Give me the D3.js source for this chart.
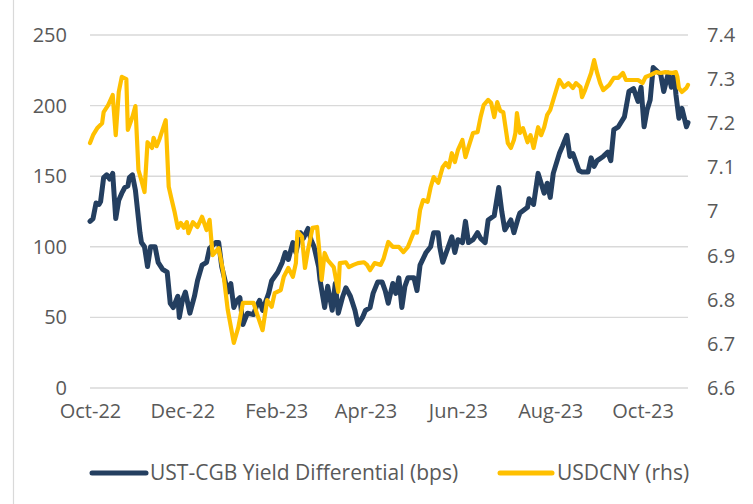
<!DOCTYPE html>
<html>
<head>
<meta charset="utf-8">
<script src="https://cdn.jsdelivr.net/npm/d3@7"></script>
<style>
  html, body { margin: 0; padding: 0; background: #fff; }
  svg { display: block; }
  text { font-family: "Open Sans", "Noto Sans", sans-serif; fill: #595959; }
</style>
</head>
<body>
<svg id="chart" width="753" height="504"></svg>
<script>
// ---------------- DATA ----------------
const seriesNames = ["UST-CGB Yield Differential (bps)", "USDCNY (rhs)"];

const spreadDates = [
"2022-10-01","2022-10-03","2022-10-05","2022-10-07","2022-10-08","2022-10-10","2022-10-12","2022-10-14","2022-10-16","2022-10-18",
"2022-10-20","2022-10-22","2022-10-24","2022-10-26","2022-10-27","2022-10-29","2022-10-31","2022-11-02","2022-11-03","2022-11-04",
"2022-11-06","2022-11-08","2022-11-10","2022-11-13","2022-11-15","2022-11-18","2022-11-21","2022-11-23","2022-11-25","2022-11-28",
"2022-11-29","2022-12-01","2022-12-03","2022-12-06","2022-12-09","2022-12-11","2022-12-14","2022-12-17","2022-12-19","2022-12-23",
"2022-12-25","2022-12-27","2022-12-31","2023-01-02","2023-01-04","2023-01-06","2023-01-08","2023-01-10","2023-01-13","2023-01-17",
"2023-01-19","2023-01-21","2023-01-23","2023-01-27","2023-01-29","2023-02-02","2023-02-05","2023-02-07","2023-02-09","2023-02-12",
"2023-02-14","2023-02-17","2023-02-19","2023-02-22","2023-02-24","2023-02-26","2023-03-01","2023-03-02","2023-03-05","2023-03-07",
"2023-03-10","2023-03-12","2023-03-14","2023-03-17","2023-03-19","2023-03-22","2023-03-25","2023-03-27","2023-03-30","2023-04-01",
"2023-04-04","2023-04-06","2023-04-09","2023-04-12","2023-04-14","2023-04-16","2023-04-19","2023-04-21","2023-04-23","2023-04-25",
"2023-04-27","2023-04-29","2023-05-03","2023-05-05","2023-05-07","2023-05-11","2023-05-14","2023-05-16","2023-05-19","2023-05-20",
"2023-05-22","2023-05-25","2023-05-28","2023-05-30","2023-06-01","2023-06-04","2023-06-06","2023-06-08","2023-06-11","2023-06-14",
"2023-06-16","2023-06-19","2023-06-21","2023-06-25","2023-06-28","2023-06-30","2023-07-02","2023-07-06","2023-07-08","2023-07-11",
"2023-07-12","2023-07-17","2023-07-18","2023-07-21","2023-07-24","2023-07-28","2023-07-30","2023-08-01","2023-08-03","2023-08-07",
"2023-08-09","2023-08-12","2023-08-14","2023-08-16","2023-08-20","2023-08-22","2023-08-26","2023-08-28","2023-08-30","2023-09-01",
"2023-09-05","2023-09-08","2023-09-10","2023-09-12","2023-09-15","2023-09-19","2023-09-22","2023-09-25","2023-09-28","2023-09-30",
"2023-10-02","2023-10-04","2023-10-06","2023-10-08","2023-10-11","2023-10-13","2023-10-15","2023-10-18","2023-10-20","2023-10-22",
"2023-10-23","2023-10-25","2023-10-27","2023-10-30","2023-10-31"
];
const spreadValues = [
118,120,131,130,132,149,151,148,152,120,
133,138,142,143,149,151,140,120,110,103,
100,86,100,100,89,84,82,60,57,65,
50,62,68,53,65,76,87,89,99,103,
103,86,68,74,57,62,64,45,53,52,
58,62,55,67,76,82,89,96,91,103,
96,110,106,113,105,100,86,76,57,72,
55,74,53,65,71,65,55,45,50,55,
57,67,75,75,69,60,74,67,78,57,
72,78,78,69,87,96,100,110,110,100,
89,98,107,96,105,103,118,103,105,110,
106,103,119,122,142,125,112,119,110,121,
124,128,134,130,152,138,145,135,152,166,
171,179,164,166,154,153,153,163,157,161,
164,167,161,183,185,192,210,212,203,213,
185,197,204,227,224,222,210,223,213,222,
208,191,198,185,188
];

const fxDates = [
"2022-10-01","2022-10-03","2022-10-06","2022-10-09","2022-10-10","2022-10-13","2022-10-16","2022-10-18","2022-10-20","2022-10-22",
"2022-10-25","2022-10-26","2022-10-29","2022-10-31","2022-11-02","2022-11-04","2022-11-06","2022-11-08","2022-11-11","2022-11-12",
"2022-11-14","2022-11-16","2022-11-20","2022-11-22","2022-11-24","2022-11-26","2022-11-28","2022-11-30","2022-12-02","2022-12-04",
"2022-12-05","2022-12-08","2022-12-11","2022-12-14","2022-12-17","2022-12-19","2022-12-21","2022-12-25","2022-12-28","2022-12-31",
"2023-01-04","2023-01-07","2023-01-10","2023-01-12","2023-01-15","2023-01-17","2023-01-20","2023-01-23","2023-01-26","2023-01-29",
"2023-01-31","2023-02-04","2023-02-06","2023-02-09","2023-02-12","2023-02-14","2023-02-15","2023-02-18","2023-02-20","2023-02-22",
"2023-02-25","2023-02-28","2023-03-02","2023-03-03","2023-03-05","2023-03-07","2023-03-11","2023-03-14","2023-03-15","2023-03-19",
"2023-03-21","2023-03-24","2023-03-27","2023-03-31","2023-04-02","2023-04-04","2023-04-07","2023-04-11","2023-04-13","2023-04-16",
"2023-04-19","2023-04-23","2023-04-26","2023-04-29","2023-05-03","2023-05-05","2023-05-07","2023-05-09","2023-05-12","2023-05-14",
"2023-05-16","2023-05-19","2023-05-22","2023-05-24","2023-05-26","2023-05-28","2023-05-30","2023-06-01","2023-06-04","2023-06-06",
"2023-06-08","2023-06-11","2023-06-14","2023-06-16","2023-06-18","2023-06-21","2023-06-23","2023-06-25","2023-06-27","2023-06-29",
"2023-07-01","2023-07-04","2023-07-06","2023-07-08","2023-07-09","2023-07-10","2023-07-12","2023-07-14","2023-07-17","2023-07-19",
"2023-07-21","2023-07-24","2023-07-26","2023-07-28","2023-07-30","2023-08-01","2023-08-03","2023-08-06","2023-08-07","2023-08-10",
"2023-08-13","2023-08-16","2023-08-18","2023-08-21","2023-08-22","2023-08-24","2023-08-28","2023-08-30","2023-09-01","2023-09-03",
"2023-09-05","2023-09-09","2023-09-12","2023-09-15","2023-09-18","2023-09-20","2023-09-23","2023-09-28","2023-10-01","2023-10-03",
"2023-10-06","2023-10-10","2023-10-13","2023-10-16","2023-10-20","2023-10-23","2023-10-24","2023-10-25","2023-10-27","2023-10-30",
"2023-10-31"
];
const fxValues = [
7.155,7.173,7.190,7.200,7.225,7.241,7.264,7.173,7.271,7.305,
7.300,7.185,7.214,7.239,7.094,7.070,7.044,7.157,7.144,7.167,
7.148,7.165,7.207,7.056,7.026,6.997,6.963,6.974,6.963,6.976,
6.951,6.976,6.965,6.988,6.958,6.981,6.901,6.917,6.863,6.777,
6.702,6.738,6.793,6.793,6.793,6.793,6.761,6.731,6.799,6.784,
6.815,6.822,6.852,6.872,6.852,6.883,6.954,6.943,6.872,6.913,
6.963,6.965,6.890,6.845,6.906,6.890,6.874,6.818,6.883,6.885,
6.874,6.879,6.883,6.885,6.879,6.867,6.883,6.879,6.894,6.931,
6.920,6.920,6.908,6.920,6.954,6.952,7.003,7.026,7.022,7.055,
7.078,7.065,7.101,7.110,7.100,7.132,7.112,7.139,7.162,7.123,
7.146,7.178,7.180,7.214,7.241,7.253,7.246,7.214,7.248,7.228,
7.225,7.155,7.144,7.162,7.178,7.223,7.178,7.189,7.157,7.173,
7.144,7.191,7.173,7.191,7.219,7.230,7.253,7.287,7.298,7.282,
7.291,7.280,7.291,7.282,7.259,7.275,7.314,7.343,7.314,7.291,
7.275,7.287,7.303,7.303,7.314,7.298,7.298,7.298,7.291,7.305,
7.309,7.316,7.314,7.316,7.314,7.316,7.305,7.280,7.271,7.280,
7.287
];

const leftTicks = [0, 50, 100, 150, 200, 250];
const rightTicks = [6.6, 6.7, 6.8, 6.9, 7.0, 7.1, 7.2, 7.3, 7.4];
const xTickDates = ["2022-10-01","2022-12-01","2023-02-01","2023-04-01","2023-06-01","2023-08-01","2023-10-01"];
const xDomain = ["2022-10-01", "2023-10-31"];

// ---------------- CHART ----------------
const parse = d3.timeParse("%Y-%m-%d");
const svg = d3.select("#chart");
const plot = { left: 90, right: 688, top: 35, bottom: 388 };
const navy = "#243F60", gold = "#FFC000";

const x = d3.scaleTime().domain(xDomain.map(parse)).range([plot.left, plot.right]);
const yL = d3.scaleLinear().domain([0, 250]).range([plot.bottom, plot.top]);
const yR = d3.scaleLinear().domain([6.6, 7.4]).range([plot.bottom, plot.top]);

// frame edge (left border of chart area)
svg.append("line").attr("x1", 13.5).attr("x2", 13.5).attr("y1", 0).attr("y2", 504)
  .attr("stroke", "#d9d9d9").attr("stroke-width", 1.2);

// gridlines
svg.append("g").selectAll("line").data(leftTicks).join("line")
  .attr("x1", plot.left).attr("x2", plot.right)
  .attr("y1", d => yL(d)).attr("y2", d => yL(d))
  .attr("stroke", "#d9d9d9").attr("stroke-width", 1.4);

// left axis
const axL = svg.append("g").attr("transform", `translate(${plot.left - 23},0)`)
  .call(d3.axisLeft(yL).tickValues(leftTicks).tickSize(0).tickPadding(0).tickFormat(d3.format("d")));
axL.select(".domain").remove();
axL.selectAll("text").style("font-size", "20px").attr("fill", "#595959")
  .style("font-family", '"Open Sans", sans-serif');

// right axis
const axR = svg.append("g").attr("transform", `translate(${plot.right + 19},0)`)
  .call(d3.axisRight(yR).tickValues(rightTicks).tickSize(0).tickPadding(0)
    .tickFormat(d => d3.format(".1f")(d).replace(/\.0$/, "")));
axR.select(".domain").remove();
axR.selectAll("text").style("font-size", "20px").attr("fill", "#595959")
  .style("font-family", '"Open Sans", sans-serif');

// x axis
const axX = svg.append("g").attr("transform", `translate(0,${plot.bottom + 12})`)
  .call(d3.axisBottom(x).tickValues(xTickDates.map(parse)).tickSize(0).tickPadding(0)
    .tickFormat(d3.timeFormat("%b-%y")));
axX.select(".domain").remove();
axX.selectAll("text").style("font-size", "20px").attr("fill", "#595959")
  .style("font-family", '"Open Sans", sans-serif').attr("dy", "0.9em");

// lines
const spreadData = spreadDates.map((d, i) => ({ date: parse(d), v: spreadValues[i] }));
const fxData = fxDates.map((d, i) => ({ date: parse(d), v: fxValues[i] }));

svg.append("path").datum(spreadData)
  .attr("fill", "none").attr("stroke", navy).attr("stroke-width", 5)
  .attr("stroke-linejoin", "round").attr("stroke-linecap", "round")
  .attr("d", d3.line().x(d => x(d.date)).y(d => yL(d.v)));

svg.append("path").datum(fxData)
  .attr("fill", "none").attr("stroke", gold).attr("stroke-width", 4.2)
  .attr("stroke-linejoin", "round").attr("stroke-linecap", "round")
  .attr("d", d3.line().x(d => x(d.date)).y(d => yR(d.v)));

// legend
const legendItems = [
  { name: seriesNames[0], color: navy, x1: 92, x2: 146, tx: 150 },
  { name: seriesNames[1], color: gold, x1: 500, x2: 552, tx: 557 }
];
const lg = svg.append("g");
legendItems.forEach(it => {
  lg.append("line").attr("x1", it.x1).attr("x2", it.x2).attr("y1", 473).attr("y2", 473)
    .attr("stroke", it.color).attr("stroke-width", 5).attr("stroke-linecap", "round");
  lg.append("text").attr("x", it.tx).attr("y", 480).text(it.name)
    .style("font-size", "21px");
});
</script>
</body>
</html>
